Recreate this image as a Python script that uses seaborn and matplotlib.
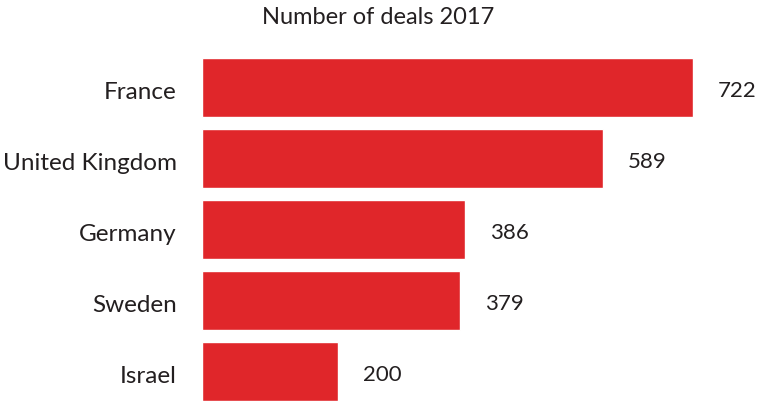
import matplotlib
matplotlib.use("Agg")
import matplotlib.pyplot as plt
import seaborn as sns
import pandas as pd

countries = ["France", "United Kingdom", "Germany", "Sweden", "Israel"]
deals = [722, 589, 386, 379, 200]
title = "Number of deals 2017"

df = pd.DataFrame({"country": countries, "deals": deals})

sns.set_style("white")
plt.rcParams["font.family"] = ["Lato", "DejaVu Sans"]
text_color = "#231f20"

fig = plt.figure(figsize=(7.57, 4.01), dpi=100)
ax = fig.add_axes([202 / 757, 0, 1 - 202 / 757, 1])

sns.barplot(data=df, x="deals", y="country", color="#E0262A",
            saturation=1, width=0.82, ax=ax)

ax.set_xlim(0, 816)
ax.set_ylim(4.415, -1.232)
ax.set_xlabel("")
ax.set_ylabel("")
ax.set_xticks([])
sns.despine(ax=ax, left=True, bottom=True)
ax.set_yticks(range(len(countries)))
ax.set_yticklabels(countries)
ax.tick_params(axis="y", length=0, pad=18, labelsize=17.5, labelcolor=text_color)
# nudge category labels slightly below bar centres
import matplotlib.transforms as mtrans
offset = mtrans.ScaledTranslation(0, -2 / 72, fig.dpi_scale_trans)
for lbl in ax.get_yticklabels():
    lbl.set_va("center_baseline")
    lbl.set_transform(lbl.get_transform() + offset)

for bar, v in zip(ax.patches, deals):
    ax.annotate(str(v), (bar.get_width(), bar.get_y() + bar.get_height() / 2),
                xytext=(18, -2.5), textcoords="offset points",
                ha="left", va="center", fontsize=16, color=text_color)

fig.text(378 / 757, 1 - 18 / 401, title, ha="center", va="center",
         fontsize=17, color=text_color)

fig.savefig("out.png", dpi=100)
